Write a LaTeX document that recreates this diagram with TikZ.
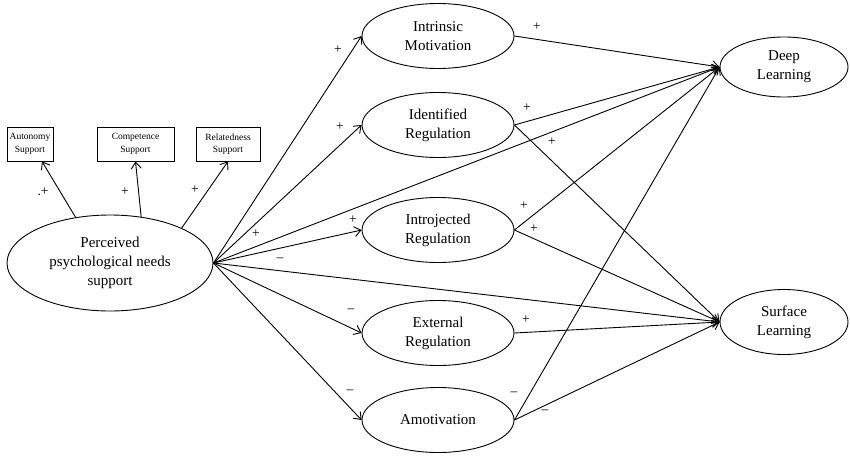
\documentclass[tikz,border=0pt]{standalone}
\usepackage{fontspec}
\setmainfont{Liberation Serif}
\usetikzlibrary{shapes.geometric,arrows.meta}
\begin{document}
\begin{tikzpicture}[x=1pt,y=-1pt,
  lat/.style={draw,ellipse,inner sep=0pt,line width=0.9pt,align=center,
    font=\fontsize{15}{19}\selectfont},
  midlat/.style={lat,minimum width=152pt,minimum height=65pt},
  ind/.style={draw,rectangle,inner sep=0pt,line width=0.9pt,align=center,
    minimum height=34pt,font=\fontsize{9.5}{12.5}\selectfont},
  pth/.style={line width=0.9pt,-{Straight Barb[length=6.5pt,width=10pt,line width=0.9pt]}},
  sgn/.style={inner sep=0pt,font=\fontsize{13.5}{15}\selectfont}
]
\useasboundingbox (0,0) rectangle (850,455);

% latent variables
\node[lat,minimum width=206pt,minimum height=96pt] (P) at (110,263)
  {Perceived\\psychological needs\\support};
\node[midlat] (IM) at (438,36) {Intrinsic\\Motivation};
\node[midlat] (IdR) at (438,125) {Identified\\Regulation};
\node[midlat] (InR) at (438,230) {Introjected\\Regulation};
\node[midlat] (ER) at (438,333) {External\\Regulation};
\node[midlat] (AM) at (438,420) {Amotivation};
\node[lat,minimum width=128pt,minimum height=60pt] (DL) at (784,67) {Deep\\Learning};
\node[lat,minimum width=128pt,minimum height=65pt] (SL) at (784,322) {Surface\\Learning};

% indicators
\node[ind,minimum width=46pt] (AS) at (30,144) {Autonomy\\Support};
\node[ind,minimum width=77pt] (CS) at (135.5,144) {Competence\\Support};
\node[ind,minimum width=64pt] (RS) at (228,144) {Relatedness\\Support};

\coordinate (ASend) at ([xshift=12pt]AS.south);
\draw[pth] (P.127) -- (ASend);
\draw[pth] (P.56) -- (CS.south);
\draw[pth] (P.26) -- (RS.south);

% paths from PPNS
\draw[pth] (P.east) -- (IM.west);
\draw[pth] (P.east) -- (IdR.west);
\draw[pth] (P.east) -- (InR.west);
\draw[pth] (P.east) -- (ER.west);
\draw[pth] (P.east) -- (AM.west);
\draw[pth] (P.east) -- (DL.west);
\draw[pth] (P.east) -- (SL.west);

% paths to outcomes
\draw[pth] (IM.east) -- (DL.west);
\draw[pth] (IdR.east) -- (DL.west);
\draw[pth] (IdR.east) -- (SL.west);
\draw[pth] (InR.east) -- (DL.west);
\draw[pth] (InR.east) -- (SL.west);
\draw[pth] (ER.east) -- (SL.west);
\draw[pth] (AM.east) -- (DL.west);
\draw[pth] (AM.east) -- (SL.west);

% signs
\node[sgn] (s1) at (43,192) {.+};
\node[sgn] (s2) at (125,192) {+};
\node[sgn] (s3) at (195,190) {+};
\node[sgn] (s4) at (338,50) {+};
\node[sgn] (s5) at (340,127) {+};
\node[sgn] (s6) at (256,234) {+};
\node[sgn] (s7) at (353,220) {+};
\node[sgn] (s8) at (280,260) {–};
\node[sgn] (s9) at (351,311) {–};
\node[sgn] (s10) at (350,392) {–};
\node[sgn] (s11) at (537,27) {+};
\node[sgn] (s12) at (527,108) {+};
\node[sgn] (s13) at (552,142) {+};
\node[sgn] (s14) at (524,206) {+};
\node[sgn] (s15) at (534,229) {+};
\node[sgn] (s16) at (526,320) {+};
\node[sgn] (s17) at (514,394) {–};
\node[sgn] (s18) at (545,412) {–};
\end{tikzpicture}
\end{document}
